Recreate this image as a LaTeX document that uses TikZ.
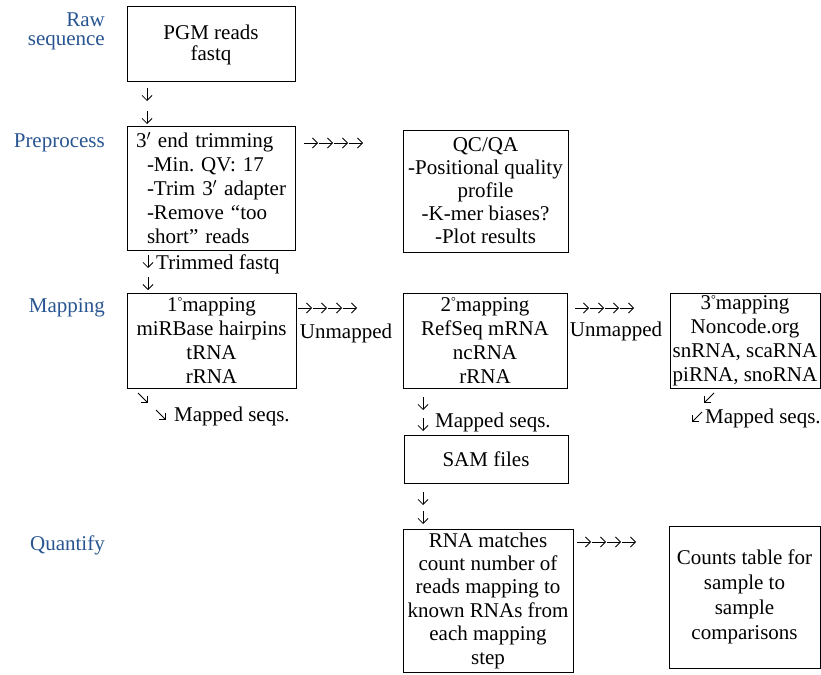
\documentclass[tikz,border=0pt]{standalone}
\usepackage{fontspec}
\setmainfont{Liberation Serif}
\usetikzlibrary{arrows.meta}

\definecolor{lanelab}{RGB}{40,85,145}
\newcommand{\ord}{\raisebox{5.5pt}{\fontsize{12}{12}\selectfont°}}

\tikzset{
  stepbox/.style={draw, line width=1pt, align=center, inner sep=2pt},
  lane/.style={text=lanelab, align=right, anchor=east, inner sep=0pt},
  note/.style={inner sep=0pt},
  glyph/.style={line width=0.8pt, -{Straight Barb[length=5pt,width=10pt]}},
}

\begin{document}
\frenchspacing
\begin{tikzpicture}[x=1pt, y=-1pt, font=\fontsize{21}{24}\selectfont]
    \useasboundingbox (0,0) rectangle (821,674);

    % Stage labels
    \node[lane, font=\fontsize{21}{19}\selectfont] (rawlab) at (105,31) {Raw\\sequence};
    \node[lane] (prelab) at (105,143) {Preprocess};
    \node[lane] (maplab) at (105,308) {Mapping};
    \node[lane] (quantlab) at (105,545) {Quantify};

    % Boxes
    \node[stepbox, minimum width=168, minimum height=75, font=\fontsize{21}{21}\selectfont]
        (pgm) at (211,44.5) {PGM reads\\fastq};
    \node[stepbox, minimum width=168, minimum height=124, text width=150, align=left]
        (trim) at (211,188) {3$'$ end trimming\\\hspace*{11pt}-Min. QV: 17\\\hspace*{11pt}-Trim 3$'$ adapter\\\hspace*{11pt}-Remove “too\\\hspace*{11pt}short” reads};
    \node[stepbox, minimum width=165, minimum height=122, font=\fontsize{21}{23}\selectfont]
        (qc) at (485.5,191) {QC/QA\\-Positional quality\\profile\\-K-mer biases?\\-Plot results};
    \node[stepbox, minimum width=169, minimum height=95]
        (map1) at (211.5,340.5) {1\ord mapping\\miRBase hairpins\\tRNA\\rRNA};
    \node[stepbox, minimum width=164, minimum height=95]
        (map2) at (485,340.5) {2\ord mapping\\RefSeq mRNA\\ncRNA\\rRNA};
    \node[stepbox, minimum width=150, minimum height=95]
        (map3) at (745,340.5) {3\ord mapping\\Noncode.org\\snRNA, scaRNA\\piRNA, snoRNA};
    \node[stepbox, minimum width=164, minimum height=48]
        (sam) at (486,459) {SAM files};
    \node[stepbox, minimum width=170, minimum height=143, font=\fontsize{21}{23.4}\selectfont]
        (rna) at (488,600.5) {RNA matches\\count number of\\reads mapping to\\known RNAs from\\each mapping\\step};
    \node[stepbox, minimum width=151, minimum height=142, font=\fontsize{21}{25}\selectfont]
        (counts) at (744.5,597) {Counts table for\\sample to\\sample\\comparisons};

    % Side texts
    \node[note, anchor=west] (trimtxt) at (156,264) {Trimmed fastq};
    \node[note] (unmap1) at (346,333) {Unmapped};
    \node[note] (unmap2) at (616,331) {Unmapped};
    \node[note, anchor=west] (mapped1) at (174,416) {Mapped seqs.};
    \node[note, anchor=west] (mapped2) at (435,422) {Mapped seqs.};
    \node[note, anchor=west] (mapped3) at (705,418) {Mapped seqs.};

    % Down arrows
    \draw[glyph] (147,88) -- (147,101);
    \draw[glyph] (147,111) -- (147,124);
    \draw[glyph] (148,255) -- (148,268);
    \draw[glyph] (148,277) -- (148,290);
    \draw[glyph] (423,397) -- (423,410);
    \draw[glyph] (423,418) -- (423,431);
    \draw[glyph] (423,492) -- (423,505);
    \draw[glyph] (423,511) -- (423,524);

    % Diagonal arrows
    \draw[glyph] (138,393) -- (148,403);
    \draw[glyph] (156,410) -- (166,420);
    \draw[glyph] (714,393) -- (704,403);
    \draw[glyph] (702,412) -- (692,422);

    % Arrow rows
    \foreach \i in {0,...,3}
        \draw[glyph] (304+15*\i,143) -- ++(14,0);
    \foreach \i in {0,...,3}
        \draw[glyph] (298+15*\i,308) -- ++(14,0);
    \foreach \i in {0,...,3}
        \draw[glyph] (575+15*\i,308) -- ++(14,0);
    \foreach \i in {0,...,3}
        \draw[glyph] (577+15*\i,542) -- ++(14,0);
\end{tikzpicture}
\end{document}
